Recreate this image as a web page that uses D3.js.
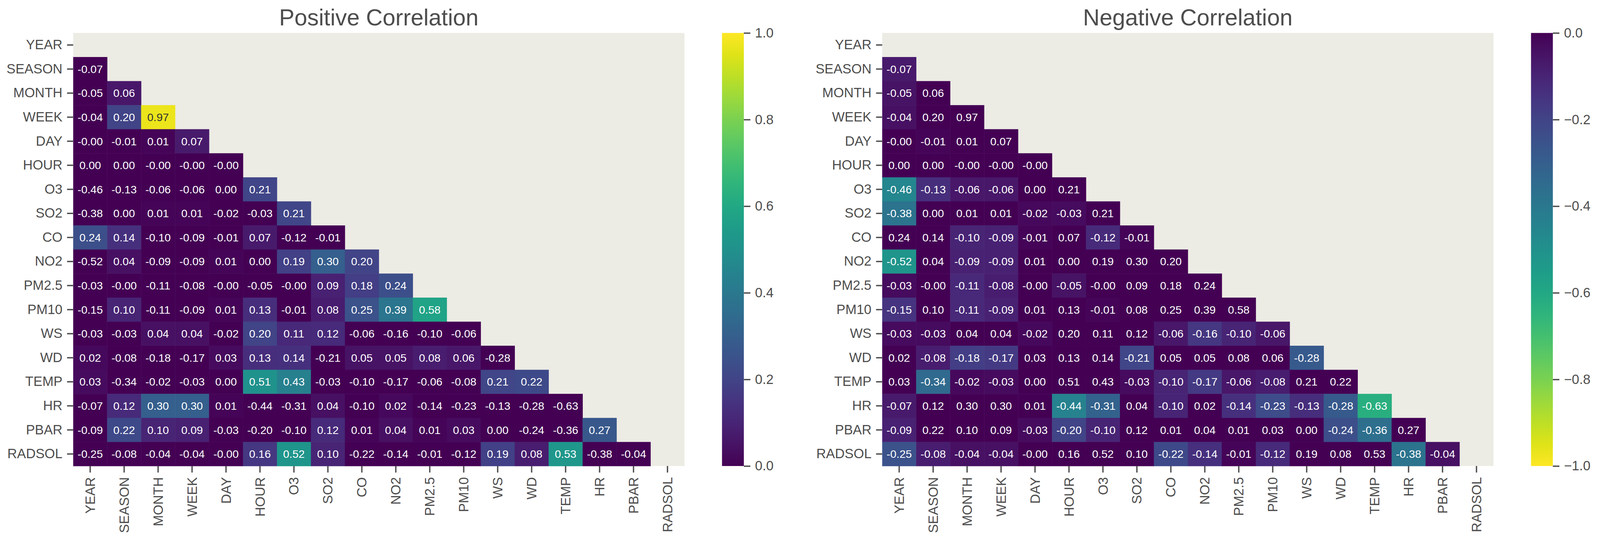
<!DOCTYPE html>
<html>
<head>
<meta charset="utf-8">
<script src="https://cdn.jsdelivr.net/npm/d3@7"></script>
<style>
  html, body { margin: 0; padding: 0; background: #fff; overflow: hidden; }
  svg { display: block; width: 100vw; height: 100vh; font-family: "Liberation Sans", Arial, sans-serif; }
</style>
</head>
<body>
<svg id="svg"></svg>
<script>
// variable names, same order for rows and columns
const labels = ["YEAR", "SEASON", "MONTH", "WEEK", "DAY", "HOUR", "O3", "SO2", "CO",
    "NO2", "PM2.5", "PM10", "WS", "WD", "TEMP", "HR", "PBAR", "RADSOL"];

// lower triangle of the correlation matrix, row i holds columns 0..i-1
const corrRows = [
    [],
    [-0.07],
    [-0.05, 0.06],
    [-0.04, 0.20, 0.97],
    [-0.00, -0.01, 0.01, 0.07],
    [0.00, 0.00, -0.00, -0.00, -0.00],
    [-0.46, -0.13, -0.06, -0.06, 0.00, 0.21],
    [-0.38, 0.00, 0.01, 0.01, -0.02, -0.03, 0.21],
    [0.24, 0.14, -0.10, -0.09, -0.01, 0.07, -0.12, -0.01],
    [-0.52, 0.04, -0.09, -0.09, 0.01, 0.00, 0.19, 0.30, 0.20],
    [-0.03, -0.00, -0.11, -0.08, -0.00, -0.05, -0.00, 0.09, 0.18, 0.24],
    [-0.15, 0.10, -0.11, -0.09, 0.01, 0.13, -0.01, 0.08, 0.25, 0.39, 0.58],
    [-0.03, -0.03, 0.04, 0.04, -0.02, 0.20, 0.11, 0.12, -0.06, -0.16, -0.10, -0.06],
    [0.02, -0.08, -0.18, -0.17, 0.03, 0.13, 0.14, -0.21, 0.05, 0.05, 0.08, 0.06, -0.28],
    [0.03, -0.34, -0.02, -0.03, 0.00, 0.51, 0.43, -0.03, -0.10, -0.17, -0.06, -0.08, 0.21, 0.22],
    [-0.07, 0.12, 0.30, 0.30, 0.01, -0.44, -0.31, 0.04, -0.10, 0.02, -0.14, -0.23, -0.13, -0.28, -0.63],
    [-0.09, 0.22, 0.10, 0.09, -0.03, -0.20, -0.10, 0.12, 0.01, 0.04, 0.01, 0.03, 0.00, -0.24, -0.36, 0.27],
    [-0.25, -0.08, -0.04, -0.04, -0.00, 0.16, 0.52, 0.10, -0.22, -0.14, -0.01, -0.12, 0.19, 0.08, 0.53, -0.38, -0.04]
];

const posTicks = [0, 0.2, 0.4, 0.6, 0.8, 1.0];
const negTicks = [-1.0, -0.8, -0.6, -0.4, -0.2, 0];

const width = 4175, height = 1408;
const plotTop = 86, plotBottom = 1216;
const textColor = "#4d4d4d";

const svg = d3.select("#svg")
    .attr("viewBox", "0 0 " + width + " " + height)
    .attr("preserveAspectRatio", "xMinYMin meet");

// flatten the triangle into cells
const cells = [];
corrRows.forEach((row, i) => row.forEach((v, j) => cells.push({ row: labels[i], col: labels[j], v: v })));

function fmt(v) {
    return (v < 0 || Object.is(v, -0)) ? "-" + Math.abs(v).toFixed(2) : v.toFixed(2);
}

// pick dark text on light cells, like seaborn does
function textFor(c) {
    const rgb = d3.rgb(c);
    const lin = x => { x /= 255; return x <= 0.03928 ? x / 12.92 : Math.pow((x + 0.055) / 1.055, 2.4); };
    const lum = 0.2126 * lin(rgb.r) + 0.7152 * lin(rgb.g) + 0.0722 * lin(rgb.b);
    return lum > 0.408 ? "#333333" : "#ffffff";
}

const panels = [
    { title: "Positive Correlation", left: 191, right: 1786, cbX: 1884,
      color: d3.scaleSequential(d3.interpolateViridis).domain([0, 1]).clamp(true),
      cbDomain: [0, 1], ticks: posTicks, id: "gpos" },
    { title: "Negative Correlation", left: 2302, right: 3897, cbX: 3995,
      color: d3.scaleSequential(d3.interpolateViridis).domain([0, -1]).clamp(true),
      cbDomain: [-1, 0], ticks: negTicks, id: "gneg" }
];

const defs = svg.append("defs");

panels.forEach(p => {
    const g = svg.append("g");

    const x = d3.scaleBand().domain(labels).range([p.left, p.right]);
    const y = d3.scaleBand().domain(labels).range([plotTop, plotBottom]);

    // masked area shows the axes face colour
    g.append("rect")
        .attr("x", p.left).attr("y", plotTop)
        .attr("width", p.right - p.left).attr("height", plotBottom - plotTop)
        .attr("fill", "#ecebe4");

    g.selectAll("rect.cell")
        .data(cells)
        .join("rect")
        .attr("class", "cell")
        .attr("x", d => x(d.col))
        .attr("y", d => y(d.row))
        .attr("width", x.bandwidth() + 0.5)
        .attr("height", y.bandwidth() + 0.5)
        .attr("fill", d => p.color(d.v));

    g.selectAll("text.annot")
        .data(cells)
        .join("text")
        .attr("class", "annot")
        .attr("x", d => x(d.col) + x.bandwidth() / 2)
        .attr("y", d => y(d.row) + y.bandwidth() / 2)
        .attr("text-anchor", "middle")
        .attr("dominant-baseline", "central")
        .attr("font-size", 29)
        .attr("fill", d => textFor(p.color(d.v)))
        .text(d => fmt(d.v));

    // axes
    const yAxis = g.append("g")
        .attr("transform", "translate(" + p.left + ",0)")
        .call(d3.axisLeft(y).tickSize(16).tickSizeOuter(0).tickPadding(12));
    const xAxis = g.append("g")
        .attr("transform", "translate(0," + plotBottom + ")")
        .call(d3.axisBottom(x).tickSize(17).tickSizeOuter(0).tickPadding(12));
    [xAxis, yAxis].forEach(a => {
        a.select(".domain").remove();
        a.selectAll("line").attr("stroke", textColor).attr("stroke-width", 3.5);
        a.selectAll("text").attr("fill", textColor).attr("font-size", 35)
            .attr("font-family", "'Liberation Sans', Arial, sans-serif");
    });
    xAxis.selectAll("text")
        .attr("transform", "rotate(-90)")
        .attr("text-anchor", "end")
        .attr("dy", "0.35em")
        .attr("x", -29)
        .attr("y", 0);

    // title
    g.append("text")
        .attr("x", (p.left + p.right) / 2)
        .attr("y", 66)
        .attr("text-anchor", "middle")
        .attr("font-size", 60)
        .attr("fill", textColor)
        .text(p.title);

    // colour bar
    const grad = defs.append("linearGradient")
        .attr("id", p.id)
        .attr("x1", 0).attr("y1", 1).attr("x2", 0).attr("y2", 0);
    d3.range(0, 1.0001, 0.05).forEach(t => {
        const v = p.cbDomain[0] + t * (p.cbDomain[1] - p.cbDomain[0]);
        grad.append("stop").attr("offset", t).attr("stop-color", p.color(v));
    });
    const cbW = 57;
    g.append("rect")
        .attr("x", p.cbX).attr("y", plotTop)
        .attr("width", cbW).attr("height", plotBottom - plotTop)
        .attr("fill", "url(#" + p.id + ")");

    const cbScale = d3.scaleLinear().domain(p.cbDomain).range([plotBottom, plotTop]);
    const cbAxis = g.append("g")
        .attr("transform", "translate(" + (p.cbX + cbW) + ",0)")
        .call(d3.axisRight(cbScale).tickValues(p.ticks).tickFormat(d3.format(".1f"))
            .tickSize(17).tickSizeOuter(0).tickPadding(12));
    cbAxis.select(".domain").remove();
    cbAxis.selectAll("line").attr("stroke", textColor).attr("stroke-width", 3.5);
    cbAxis.selectAll("text").attr("fill", textColor).attr("font-size", 35)
        .attr("font-family", "'Liberation Sans', Arial, sans-serif");
});
</script>
</body>
</html>
